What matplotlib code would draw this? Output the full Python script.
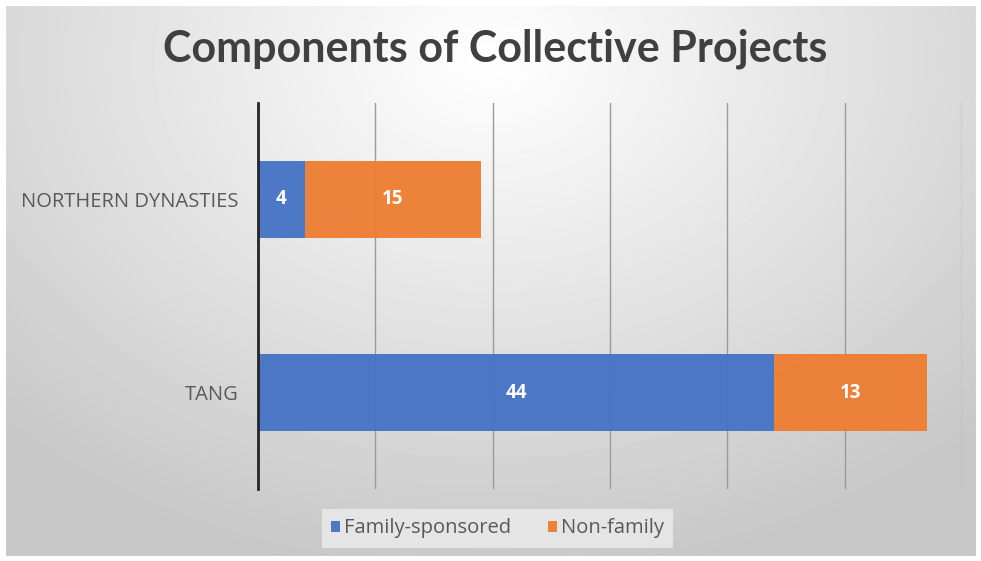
import matplotlib.pyplot as plt
import numpy as np

categories = ["TANG", "NORTHERN DYNASTIES"]
family = [44, 4]
non_family = [13, 15]
series_names = ["Family-sponsored", "Non-family"]

plt.rcParams['font.family'] = ['Open Sans', 'DejaVu Sans']

fig = plt.figure(figsize=(9.81, 5.61), dpi=100)

# radial grey background
bg = fig.add_axes([0, 0, 1, 1], zorder=-10)
yy, xx = np.mgrid[0:561, 0:981]
r = np.sqrt(((xx - 490) / 700.0) ** 2 + ((yy - 60) / 520.0) ** 2)
shade = np.clip(1.0 - 0.22 * r, 0.78, 1.0)
bg.imshow(shade, cmap='gray', vmin=0, vmax=1, aspect='auto', interpolation='bilinear')
bg.axis('off')
fig.patches.append(plt.Rectangle((0, 0), 1, 1, transform=fig.transFigure,
                                 fill=False, edgecolor='white', linewidth=8, zorder=10))

ax = fig.add_axes([258 / 981, 1 - 489 / 561, (962 - 258) / 981, (489 - 103) / 561])
ax.patch.set_alpha(0)

ypos = np.arange(len(categories))
b1 = ax.barh(ypos, family, height=0.4, color='#4472C4', alpha=0.95, label=series_names[0], zorder=2)
b2 = ax.barh(ypos, non_family, left=family, height=0.4, color='#ED7D31', alpha=0.95,
             label=series_names[1], zorder=2)

for bars, vals, lefts in [(b1, family, [0, 0]), (b2, non_family, family)]:
    for y, v, l in zip(ypos, vals, lefts):
        ax.text(l + v / 2, y, str(v), ha='center', va='center', color='white',
                fontsize=13.5, fontweight='bold', zorder=3)

ax.set_xlim(0, 60)
ax.set_ylim(-0.5, 1.5)
ax.set_xticks(range(0, 61, 10))
ax.set_xticklabels([])
ax.set_yticks(ypos)
ax.set_yticklabels(categories, fontsize=14.5, color='#595959')
ax.tick_params(length=0, pad=14)
ax.xaxis.grid(True, color='#9a9a9a', linewidth=1, zorder=1)
for s in ['top', 'right', 'bottom']:
    ax.spines[s].set_visible(False)
ax.spines['left'].set_color('#262626')
ax.spines['left'].set_linewidth(2)
ax.spines['left'].set_zorder(4)

fig.text(0.505, 0.913, "Components of Collective Projects", ha='center', va='center',
         fontsize=31, fontweight='bold', color='#404040', family=['Lato', 'DejaVu Sans'])

leg = fig.legend(handles=[b1, b2], loc='center', bbox_to_anchor=(0.507, 0.058), ncol=2,
                 frameon=True, fontsize=14.5, handlelength=0.45, handleheight=0.45,
                 handletextpad=0.2, columnspacing=1.8, borderpad=0.45, borderaxespad=0,
                 fancybox=False)
leg.get_frame().set_facecolor('#ececec')
leg.get_frame().set_edgecolor('none')
leg.get_frame().set_alpha(0.8)
leg._legend_box.sep = 0
for t in leg.get_texts():
    t.set_color('#595959')

fig.savefig('out.png', dpi=100)
